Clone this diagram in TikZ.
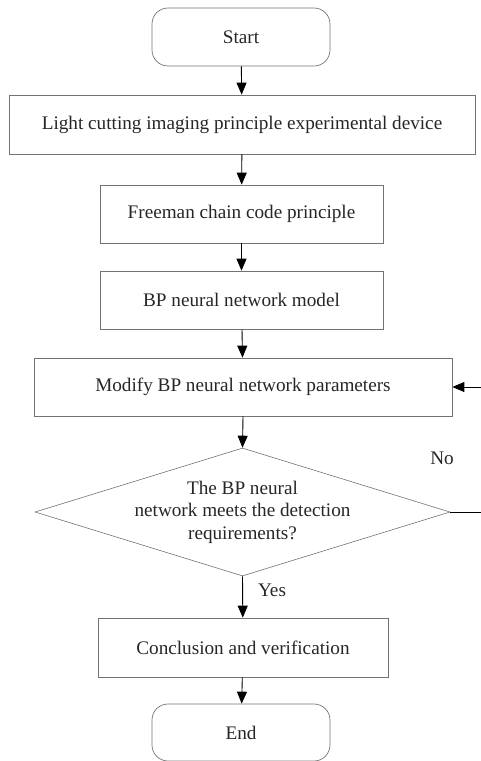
\documentclass[tikz,border=0pt]{standalone}
\usepackage{fontspec}
\setmainfont{Liberation Serif}
\usetikzlibrary{shapes.geometric,arrows.meta}
\begin{document}
\begin{tikzpicture}[x=1pt,y=-1pt,
  every node/.style={font=\fontsize{19.2}{22.5}\selectfont, text=black!85},
  term/.style={draw=black!55, line width=0.7pt, rounded corners=16pt, minimum width=178pt, minimum height=58pt, inner sep=0pt},
  proc/.style={draw=black!55, line width=0.7pt, minimum height=59pt, inner sep=0pt},
  dec/.style={draw=black!55, line width=0.6pt, diamond, minimum width=415pt, minimum height=128pt, inner sep=0pt, align=center},
  flow/.style={draw=black, line width=0.9pt, -{Triangle[length=12pt,width=10pt]}},
  lbl/.style={inner sep=0pt}
]
\useasboundingbox (0,0) rectangle (481,761);
\node[term] (start) at (241,37) {Start};
\node[proc, minimum width=466pt] (b1) at (242,124.5) {Light cutting imaging principle experimental device};
\node[proc, minimum width=283pt, minimum height=58pt] (b2) at (241.5,214) {Freeman chain code principle};
\node[proc, minimum width=283pt, minimum height=58pt] (b3) at (241.5,300) {BP neural network model};
\node[proc, minimum width=418pt, minimum height=58pt] (b4) at (243,387) {Modify BP neural network parameters};
\node[dec] (d) at (242.5,512) {};
\node[lbl, align=center] (dt) at (242.5,512) {The BP neural\\network meets the detection\\requirements?};
\node[proc, minimum width=290pt] (b5) at (243,647.5) {Conclusion and verification};
\node[term, minimum height=57pt] (end) at (241,732.5) {End};
\node[lbl] (no) at (442,458) {No};
\node[lbl] (yes) at (272,590) {Yes};
\coordinate (fbin) at (481,387);
\coordinate (fbout) at (481,512);
\draw[flow] (start) -- (b1);
\draw[flow] (b1) -- (b2);
\draw[flow] (b2) -- (b3);
\draw[flow] (b3) -- (b4);
\draw[flow] (b4.south) -- (d.north);
\draw[flow] (d.south) -- (b5);
\draw[flow] (b5) -- (end);
\draw[draw=black, line width=0.9pt] (d.east) -- (fbout);
\draw[flow] (fbin) -- (b4.east);
\end{tikzpicture}
\end{document}
